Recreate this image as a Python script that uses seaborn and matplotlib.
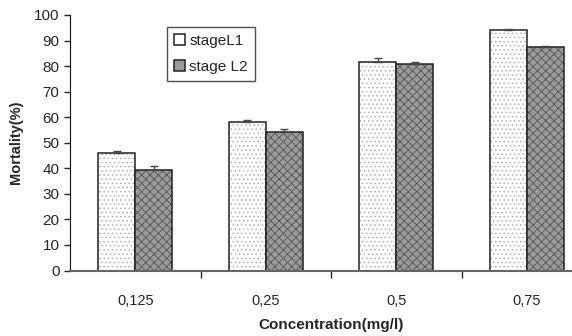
import numpy as np
import pandas as pd
import seaborn as sns
import matplotlib.pyplot as plt

concentrations = ["0,125", "0,25", "0,5", "0,75"]
stage_l1 = [45.8, 58.2, 81.7, 94.3]
stage_l2 = [39.2, 54.3, 80.7, 87.6]
err_l1 = [0.9, 0.8, 1.3, 0.4]
err_l2 = [1.6, 0.9, 0.9, 0.4]
stages = ["stageL1", "stage L2"]

df = pd.DataFrame({
    "conc": concentrations * 2,
    "mort": stage_l1 + stage_l2,
    "stage": [stages[0]] * 4 + [stages[1]] * 4,
})

sns.set_style("white")
plt.rcParams["font.family"] = ["Liberation Sans", "DejaVu Sans"]
plt.rcParams["hatch.linewidth"] = 0.6

fig = plt.figure(figsize=(5.72, 3.36), dpi=100)
ax = fig.add_axes([70 / 572, 65.5 / 336, 522 / 572, 255.5 / 336])

sns.barplot(data=df, x="conc", y="mort", hue="stage", order=concentrations,
            hue_order=stages, palette=["#ffffff", "#9a9a9a"], width=0.567,
            edgecolor="#222222", linewidth=1.1, errorbar=None, ax=ax)

styles = [("....", "#b0b0b0"), ("xxxx", "#555555")]
errs = [err_l1, err_l2]
for cont, (hatch, hc), e in zip(ax.containers, styles, errs):
    xs = []
    ys = []
    for bar in cont:
        bar.set_hatch(hatch)
        bar._hatch_color = plt.matplotlib.colors.to_rgba(hc)
        xs.append(bar.get_x() + bar.get_width() / 2)
        ys.append(bar.get_height())
    ax.errorbar(xs, ys, yerr=[np.zeros(len(e)), e], fmt="none",
                ecolor="#444444", elinewidth=1, capsize=3, capthick=1)

ax.set_ylim(0, 100)
ax.set_xlim(-0.5, 3.5)
ax.set_yticks(range(0, 101, 10))
ax.set_xticks(range(4))
ax.set_xticklabels(concentrations)
ax.set_xticks([0.5, 1.5, 2.5], minor=True)
ax.tick_params(axis="x", which="major", length=0, pad=17, labelsize=10.5)
ax.tick_params(axis="x", which="minor", length=5, direction="out", width=1, bottom=True)
ax.tick_params(axis="y", length=4, direction="out", width=1, left=True, labelsize=11)

for s in ["top", "right"]:
    ax.spines[s].set_visible(False)
ax.spines["left"].set_color("#111111")
ax.spines["bottom"].set_color("#666666")
ax.spines["bottom"].set_linewidth(1.5)

ax.set_xlabel("Concentration(mg/l)", fontweight="bold", fontsize=11, labelpad=7)
ax.set_ylabel("Mortality(%)", fontweight="bold", fontsize=10.5, labelpad=8)

leg = ax.legend(loc="upper left", bbox_to_anchor=(97 / 522, 1 - 12 / 255.5),
                borderaxespad=0, fontsize=11, frameon=True, fancybox=False,
                handlelength=0.7, handleheight=0.7, handletextpad=0.3,
                borderpad=0.45, labelspacing=0.8, title=None)
leg.get_frame().set_edgecolor("#222222")
leg.get_frame().set_linewidth(1)

fig.savefig("out.png", dpi=100)
